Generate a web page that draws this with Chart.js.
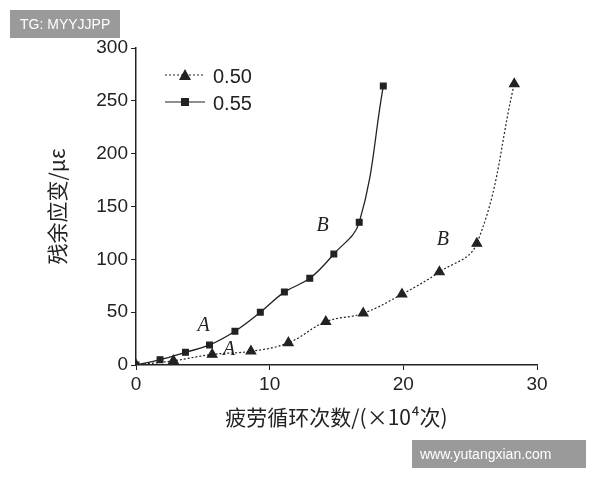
<!DOCTYPE html>
<html><head><meta charset="utf-8">
<script src="https://cdn.jsdelivr.net/npm/chart.js@4"></script>
<style>
body{margin:0;background:#fff;}
#wrap{position:relative;width:600px;height:480px;}
.wm{position:absolute;background:rgba(120,120,120,0.75);color:#fff;font:14px "Liberation Sans",Arial,sans-serif;padding:6px 10px;}
</style></head>
<body><div id="wrap"><canvas id="c" width="600" height="480"></canvas>
<div class="wm" style="left:10px;top:10px;">TG: MYYJJPP</div>
<div class="wm" style="left:412px;top:440px;width:158px;padding:6px 8px;">www.yutangxian.com</div>
</div>
<script>
// 0.50 series (triangles)
const x050 = [0, 2.8, 5.7, 8.6, 11.4, 14.2, 17, 19.9, 22.7, 25.5, 28.3];
const y050 = [0, 4, 10, 13, 21, 41, 49, 67, 88, 115, 266];
// 0.55 series (squares)
const x055 = [0, 1.8, 3.7, 5.5, 7.4, 9.3, 11.1, 13, 14.8, 16.7, 18.5];
const y055 = [0, 5, 12, 19, 32, 50, 69, 82, 105, 135, 264];
const xTicks = [0, 10, 20, 30];
const yTicks = [0, 50, 100, 150, 200, 250, 300];

const font = '"Liberation Sans",Arial,sans-serif';
const serif = '"Liberation Serif","Times New Roman",serif';
const pts = (xs, ys) => xs.map((x, i) => ({x: x, y: ys[i]}));

const labels = {
  id: 'labels',
  afterDraw(chart) {
    const c = chart.ctx, xs = chart.scales.x, ys = chart.scales.y;
    c.save();
    c.fillStyle = '#222';
    c.font = 'italic 20px ' + serif;
    [['A', 4.6, 32], ['A', 6.5, 9], ['B', 13.5, 127], ['B', 22.5, 114]].forEach(l => {
      c.fillText(l[0], xs.getPixelForValue(l[1]), ys.getPixelForValue(l[2]));
    });
    // legend
    c.font = '20px ' + font;
    c.strokeStyle = '#222'; c.lineWidth = 1.2;
    [['0.50', 75, 'triangle', [2, 2]], ['0.55', 102, 'rect', []]].forEach(l => {
      c.setLineDash(l[3]);
      c.beginPath(); c.moveTo(165, l[1]); c.lineTo(205, l[1]); c.stroke();
      c.setLineDash([]);
      c.beginPath();
      if (l[2] === 'triangle') { c.moveTo(185, l[1] - 6); c.lineTo(191, l[1] + 5); c.lineTo(179, l[1] + 5); }
      else { c.rect(181, l[1] - 4, 8, 8); }
      c.fill();
      c.fillText(l[0], 213, l[1] + 8);
    });
    c.restore();
  }
};

new Chart(document.getElementById('c'), {
  type: 'scatter',
  data: {
    datasets: [
      { label: '0.50', data: pts(x050, y050), showLine: true, tension: 0.4, borderDash: [2, 2],
        borderColor: '#222', backgroundColor: '#222', borderWidth: 1.2, pointStyle: 'triangle', pointRadius: 5.5 },
      { label: '0.55', data: pts(x055, y055), showLine: true, tension: 0.4,
        borderColor: '#222', backgroundColor: '#222', borderWidth: 1.3, pointStyle: 'rect', pointRadius: 4 }
    ]
  },
  options: {
    responsive: false, animation: false,
    layout: { padding: { top: 48, right: 63, left: 40, bottom: 46 } },
    plugins: { legend: { display: false }, tooltip: { enabled: false } },
    scales: {
      x: { min: 0, max: 30, afterBuildTicks: a => { a.ticks = xTicks.map(v => ({value: v})); },
        afterFit: a => { a.height = 69; },
        grid: { drawOnChartArea: false, color: '#222', tickLength: 5 },
        border: { color: '#222', width: 1.5 },
        ticks: { color: '#222', font: { size: 19, family: font } },
        title: { display: true, text: '疲劳循环次数/(×10⁴次)', color: '#222', font: { size: 21, family: '"Noto Sans CJK SC"' } } },
      y: { min: 0, max: 300, afterBuildTicks: a => { a.ticks = yTicks.map(v => ({value: v})); },
        afterFit: a => { a.width = 96; },
        grid: { drawOnChartArea: false, color: '#222', tickLength: 5 },
        border: { color: '#222', width: 1.5 },
        ticks: { color: '#222', font: { size: 19, family: font } },
        title: { display: true, text: '残余应变/με', color: '#222', font: { size: 21, family: '"Noto Sans CJK SC"' } } }
    }
  },
  plugins: [labels]
});
</script></body></html>
